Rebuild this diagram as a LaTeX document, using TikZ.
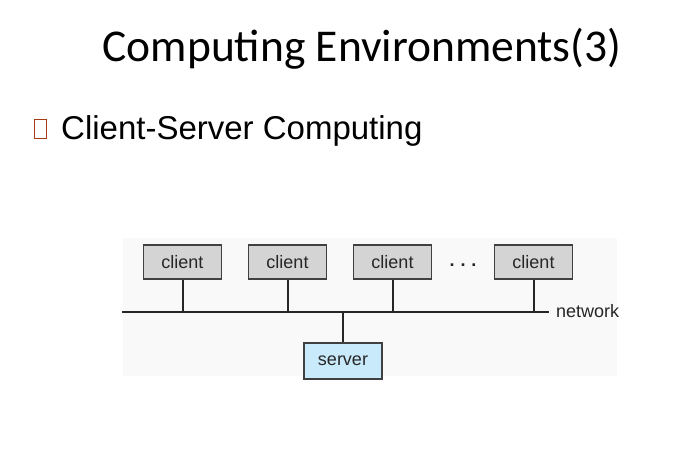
\documentclass[tikz,border=0pt]{standalone}
\usepackage{fontspec}
\setmainfont{Carlito}
\newfontfamily\arialfont{Liberation Sans}
\usepackage{tikz}
\usetikzlibrary{positioning}
\definecolor{boxgray}{RGB}{212,212,212}
\definecolor{serverblue}{RGB}{201,234,250}
\definecolor{bulletred}{RGB}{166,58,20}
\definecolor{figback}{RGB}{249,249,249}

\begin{document}
\begin{tikzpicture}[x=1pt,y=-1pt]
                    \tikzstyle{every node}+=[inner sep=0pt]
                    \tikzstyle{machine}=[draw=black!75, line width=1.2pt, minimum width=78pt, minimum height=34pt, font=\arialfont\fontsize{18}{18}\selectfont, text=black!85]
                    \tikzstyle{wire}=[black!85, line width=2pt]
                    \useasboundingbox (0,0) rectangle (694,465);
                    % slide text
                    \node (title) [anchor=base, font=\fontsize{45.5}{45.5}\selectfont] at (362,62) {Computing Environments(3)};
                    \node (bullet) [draw=bulletred, line width=1.6pt, minimum width=12pt, minimum height=19pt] at (40.5,129) {};
                    \node (topic) [anchor=base west, font=\arialfont\fontsize{33}{33}\selectfont] at (61,140) {Client-Server Computing};
                    % figure
                    \fill [figback] (123,238) rectangle (617,376);
                    \node (c1) [machine, fill=boxgray] at (182.5,262) {client};
                    \node (c2) [machine, fill=boxgray] at (287.5,262) {client};
                    \node (c3) [machine, fill=boxgray] at (392.5,262) {client};
                    \node (c4) [machine, fill=boxgray] at (533.5,262) {client};
                    \node (dots) [anchor=base, font=\arialfont\bfseries\fontsize{18}{18}\selectfont, text=black!85] at (463,267) {.\hspace{6pt}.\hspace{6pt}.};
                    \node (srv) [machine, fill=serverblue, minimum height=36pt] at (343,361) {server};
                    \coordinate (netL) at (122,312);
                    \coordinate (netR) at (549,312);
                    \node (net) [anchor=west, font=\arialfont\fontsize{18}{18}\selectfont, text=black!85] at (556,311) {network};
                    \draw [wire] (netL) -- (netR);
                    \draw [wire] (c1.south) -- (c1.south |- netL);
                    \draw [wire] (c2.south) -- (c2.south |- netL);
                    \draw [wire] (c3.south) -- (c3.south |- netL);
                    \draw [wire] (c4.south) -- (c4.south |- netL);
                    \draw [wire] (srv.north) -- (srv.north |- netL);
\end{tikzpicture}
\end{document}
